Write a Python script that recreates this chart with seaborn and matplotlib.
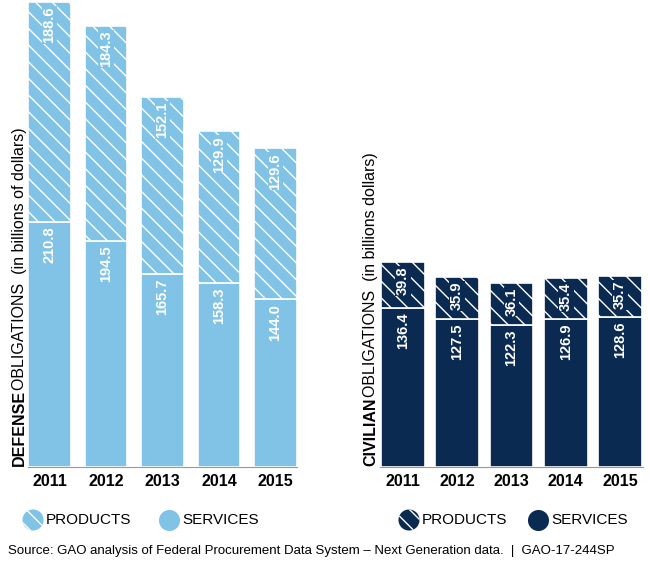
import matplotlib
matplotlib.use("Agg")
import matplotlib.pyplot as plt
import seaborn as sns
import pandas as pd

years = ["2011", "2012", "2013", "2014", "2015"]
def_services = [210.8, 194.5, 165.7, 158.3, 144.0]
def_products = [188.6, 184.3, 152.1, 129.9, 129.6]
civ_services = [136.4, 127.5, 122.3, 126.9, 128.6]
civ_products = [39.8, 35.9, 36.1, 35.4, 35.7]

light = "#80c3e6"
dark = "#0b2a52"
plt.rcParams["hatch.color"] = "white"
plt.rcParams["hatch.linewidth"] = 1.0
plt.rcParams["font.family"] = ["Liberation Sans", "DejaVu Sans"]

W, H = 650, 562
fig = plt.figure(figsize=(W / 100, H / 100), dpi=100)


def px_axes(x0, x1, ytop, ybot):
    return fig.add_axes([x0 / W, 1 - ybot / H, (x1 - x0) / W, (ybot - ytop) / H])


def panel(ax, services, products, color, width, xpad):
    df = pd.DataFrame({"year": years, "services": services, "products": products})
    sns.barplot(data=df, x="year", y="services", color=color, width=width,
                edgecolor="white", linewidth=1.2, saturation=1, ax=ax)
    sns.barplot(data=df, x="year", y="products", bottom=df["services"], color=color,
                width=width, edgecolor="white", linewidth=1.2, saturation=1,
                hatch="\\\\", ax=ax)
    for i, (s, p) in enumerate(zip(services, products)):
        ax.text(i, s - 4, f"{s:.1f}", rotation=90, ha="center", va="top",
                color="white", fontsize=10.5, fontweight="bold")
        ax.text(i, s + p - 4, f"{p:.1f}", rotation=90, ha="center", va="top",
                color="white", fontsize=10.5, fontweight="bold",
                bbox=dict(facecolor=color, edgecolor="none", pad=0.5))
    ax.set_ylim(0, 399.4)
    ax.set_xlim(-xpad, 4 + xpad)
    ax.set_xlabel("")
    ax.set_ylabel("")
    ax.set_yticks([])
    ax.tick_params(axis="x", length=0, labelsize=11.5, pad=5)
    for lab in ax.get_xticklabels():
        lab.set_fontweight("bold")
    for sp in ax.spines.values():
        sp.set_visible(False)
    ax.spines["bottom"].set_visible(True)
    ax.spines["bottom"].set_color("#999999")
    ax.patch.set_alpha(0)


ax1 = px_axes(28, 297, 2, 467)
panel(ax1, def_services, def_products, light, 0.76, 0.38)
ax2 = px_axes(380, 643, 2, 467)
panel(ax2, civ_services, civ_products, dark, 0.8, 0.42)

# rotated axis titles
fig.text(12 / W, 1 - 466 / H, "DEFENSE", rotation=90, ha="left", va="bottom",
         fontsize=11.5, fontweight="bold")
fig.text(12 / W, 1 - 390 / H, "OBLIGATIONS  (in billions of dollars)", rotation=90,
         ha="left", va="bottom", fontsize=11.5)
fig.text(363 / W, 1 - 466 / H, "CIVILIAN", rotation=90, ha="left", va="bottom",
         fontsize=11.5, fontweight="bold")
fig.text(363 / W, 1 - 397 / H, "OBLIGATIONS  (in billions dollars)", rotation=90,
         ha="left", va="bottom", fontsize=11.5)

# legends
ov = fig.add_axes([0, 0, 1, 1])
ov.set_xlim(0, W)
ov.set_ylim(H, 0)
ov.axis("off")
for cx, color in [(33, light), (409, dark)]:
    ov.scatter([cx], [520], s=230, color=color, hatch="\\\\", edgecolor="white", linewidth=0)
    ov.text(cx + 13, 520, "PRODUCTS", va="center", fontsize=11)
for cx, color in [(169, light), (538, dark)]:
    ov.scatter([cx], [520], s=230, color=color, linewidth=0)
    ov.text(cx + 13, 520, "SERVICES", va="center", fontsize=11)

fig.text(8 / W, 1 - 551 / H,
         "Source: GAO analysis of Federal Procurement Data System \u2013 Next Generation data.  |  GAO-17-244SP",
         ha="left", va="center", fontsize=9.5)

fig.savefig("out.png", dpi=100)
